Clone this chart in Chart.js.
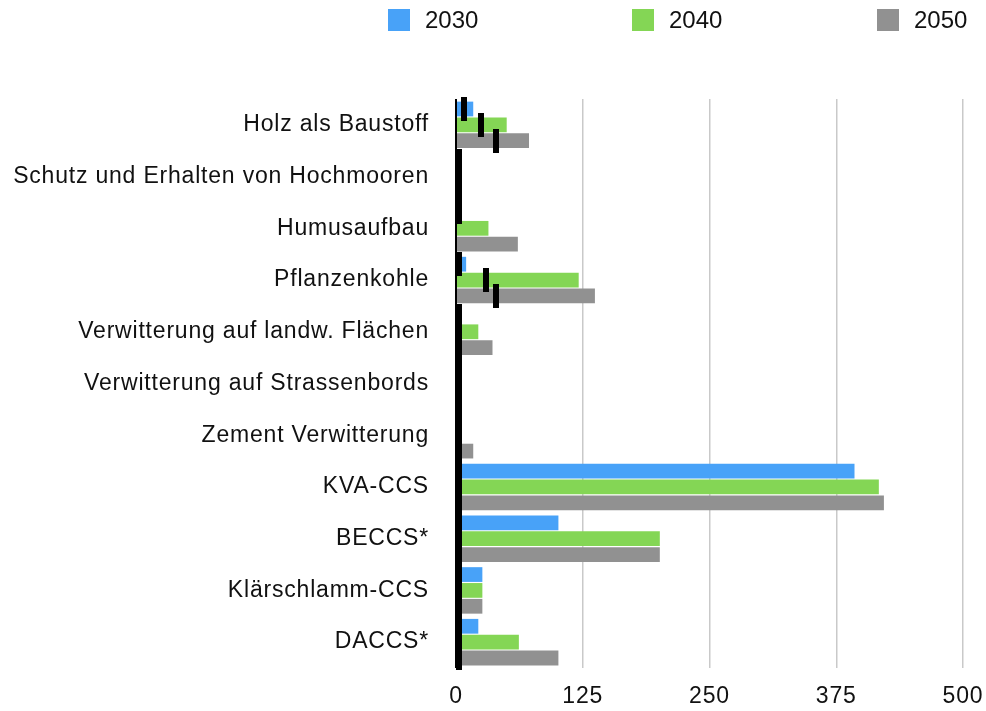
<!DOCTYPE html>
<html>
<head>
<meta charset="utf-8">
<script src="https://cdn.jsdelivr.net/npm/chart.js@4/dist/chart.umd.min.js"></script>
<style>
  html, body { margin: 0; padding: 0; background: #fff; }
  #wrap { position: relative; width: 986px; height: 711px; }
  #legend { position: absolute; top: 0; left: 0; width: 986px; height: 40px;
            font-family: "Liberation Sans", Arial, sans-serif; font-size: 24px; color: #111; }
  .item { position: absolute; top: 8px; display: flex; align-items: center; height: 24px; }
  .box { width: 22px; height: 22px; margin-right: 15px; }
</style>
</head>
<body>
<div id="wrap">
  <canvas id="grafica" width="986" height="711"></canvas>
  <div id="legend"></div>
</div>
<script>
const categorias = [
  'Holz als Baustoff',
  'Schutz und Erhalten von Hochmooren',
  'Humusaufbau',
  'Pflanzenkohle',
  'Verwitterung auf landw. Flächen',
  'Verwitterung auf Strassenbords',
  'Zement Verwitterung',
  'KVA-CCS',
  'BECCS*',
  'Klärschlamm-CCS',
  'DACCS*'
];
const series = ['2030', '2040', '2050'];
const valores2030 = [17, 0, 5, 10, 0, 0, 0, 393, 101, 26, 22];
const valores2040 = [50, 0, 32, 121, 22, 0, 0, 417, 201, 26, 62];
const valores2050 = [72, 0, 61, 137, 36, 0, 17, 422, 201, 26, 101];
// black marks (x value of each mark, null = none)
const marcas2030 = [5, 0, 0, 0, 0, 0, 0, 0, 0, 0, 0];
const marcas2040 = [22, 0, null, 27, 0, 0, 0, 0, 0, 0, 0];
const marcas2050 = [36, 0, null, 36, 0, 0, 0, 0, 0, 0, 0];
const ticksX = [0, 125, 250, 375, 500];

const colores = ['#48a2f8', '#84d655', '#919191'];
const legendLeft = [388, 632, 877];

// legend
const legend = document.getElementById('legend');
series.forEach((s, i) => {
  const it = document.createElement('div');
  it.className = 'item';
  it.style.left = legendLeft[i] + 'px';
  it.innerHTML = '<span class="box" style="background:' + colores[i] + '"></span><span>' + s + '</span>';
  legend.appendChild(it);
});

const marcas = [marcas2030, marcas2040, marcas2050];

const marcasPlugin = {
  id: 'marcas',
  afterDatasetsDraw(chart) {
    const ctx = chart.ctx;
    const xs = chart.scales.x;
    ctx.save();
    ctx.fillStyle = '#000';
    marcas.forEach((arr, d) => {
      const meta = chart.getDatasetMeta(d);
      arr.forEach((v, j) => {
        if (v === null) return;
        const bar = meta.data[j];
        const x = Math.round(xs.getPixelForValue(v));
        ctx.fillRect(x, Math.round(bar.y - 12), 6, 24);
      });
    });
    ctx.restore();
  }
};

const spacingPlugin = {
  id: 'spacing',
  beforeLayout(chart) { chart.ctx.letterSpacing = '0.8px'; },
  beforeDraw(chart) { chart.ctx.letterSpacing = '0.8px'; }
};

const fuente = { family: '"Liberation Sans", Arial, sans-serif', size: 23 };

new Chart(document.getElementById('grafica'), {
  type: 'bar',
  data: {
    labels: categorias,
    datasets: [
      { label: series[0], data: valores2030, backgroundColor: colores[0] },
      { label: series[1], data: valores2040, backgroundColor: colores[1] },
      { label: series[2], data: valores2050, backgroundColor: colores[2] }
    ]
  },
  options: {
    indexAxis: 'y',
    responsive: false,
    animation: false,
    barPercentage: 0.93,
    categoryPercentage: 0.92,
    layout: { padding: { top: 99, right: 23, bottom: 0, left: 0 } },
    plugins: { legend: { display: false }, tooltip: { enabled: false } },
    scales: {
      x: {
        min: 0, max: 500,
        afterBuildTicks(scale) { scale.ticks = ticksX.map(v => ({ value: v })); },
        afterFit(scale) { scale.height = 43; scale.paddingLeft = 0; scale.paddingRight = 0; },
        ticks: { font: fuente, color: '#111', padding: 15 },
        grid: {
          drawTicks: false,
          color: c => c.tick && c.tick.value === 0 ? '#000' : '#c9c9c9',
          lineWidth: c => c.tick && c.tick.value === 0 ? 2 : 1.5
        },
        border: { display: false }
      },
      y: {
        afterFit(scale) { scale.width = 456; scale.paddingTop = 0; scale.paddingBottom = 0; },
        ticks: { font: fuente, color: '#111', padding: 27 },
        grid: { display: false, drawTicks: false },
        border: { display: false }
      }
    }
  },
  plugins: [spacingPlugin, marcasPlugin]
});
</script>
</body>
</html>
